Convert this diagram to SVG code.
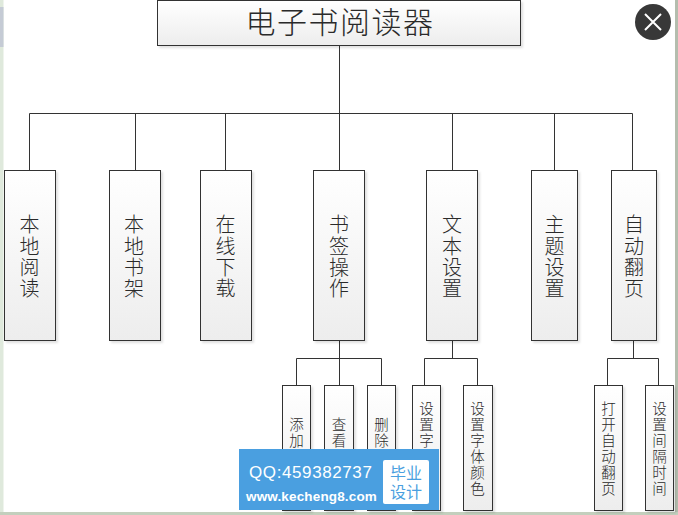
<svg xmlns="http://www.w3.org/2000/svg" width="678" height="515" viewBox="0 0 678 515">
<style>
text{font-family:"Noto Sans CJK SC","Noto Sans",sans-serif;fill:#2a2a2a;text-anchor:middle;font-weight:300}
.box{fill:url(#g);stroke:#333;stroke-width:1;filter:url(#s)}
.big{font-size:20px}
.small{font-size:14.500px}
.conn{fill:none;stroke:#333;stroke-width:1}
.wm{font-family:"Liberation Sans",sans-serif;fill:#fff;text-anchor:start;font-weight:400}
</style>
<defs>
<linearGradient id="g" x1="0" y1="0" x2="0" y2="1"><stop offset="0" stop-color="#fff"/><stop offset="1" stop-color="#ededed"/></linearGradient>
<filter id="s" x="-10%" y="-10%" width="125%" height="125%"><feDropShadow dx="2" dy="2" stdDeviation="0.8" flood-color="#000" flood-opacity="0.12"/></filter>
</defs>
<rect width="678" height="515" fill="#fff"/>
<rect x="0" y="0" width="3.500" height="515" fill="#dfe9dc"/>
<rect x="0" y="7" width="3.500" height="40" fill="#c5cbd5"/>
<rect x="675" y="0" width="3" height="515" fill="#b4bdae"/>
<rect x="0" y="512" width="678" height="3" fill="#c3cfbd"/>
<g id="connectors" class="conn">
<path d="M339.500 45V113.500M29.500 170V113.500H632.500V170M135.500 113.500V170M225.500 113.500V170M339.500 113.500V170M452.500 113.500V170M554.500 113.500V170"/>
<path d="M339.500 341V358.500M296.500 385V358.500H381.500V385M339.500 358.500V385"/>
<path d="M452.500 341V358.500M424.500 385V358.500H477.500V385"/>
<path d="M633.500 341V358.500M607.500 385V358.500H658.500V385"/>
</g>
<g id="root"><rect class="box" x="157.500" y="0.500" width="363" height="45"/><text x="340" y="33" font-size="30" letter-spacing="1.500">电子书阅读器</text></g>
<g id="n1"><rect class="box" x="4.500" y="170.500" width="51" height="170"/><text class="big"><tspan x="29.500" y="232">本</tspan><tspan x="29.500" y="254">地</tspan><tspan x="29.500" y="275">阅</tspan><tspan x="29.500" y="296">读</tspan></text></g>
<g id="n2"><rect class="box" x="109.500" y="170.500" width="51" height="170"/><text class="big"><tspan x="134" y="232">本</tspan><tspan x="134" y="254">地</tspan><tspan x="134" y="275">书</tspan><tspan x="134" y="296">架</tspan></text></g>
<g id="n3"><rect class="box" x="200.500" y="170.500" width="51" height="170"/><text class="big"><tspan x="225.500" y="232">在</tspan><tspan x="225.500" y="254">线</tspan><tspan x="225.500" y="275">下</tspan><tspan x="225.500" y="296">载</tspan></text></g>
<g id="n4"><rect class="box" x="313.500" y="170.500" width="51" height="170"/><text class="big"><tspan x="339" y="232">书</tspan><tspan x="339" y="254">签</tspan><tspan x="339" y="275">操</tspan><tspan x="339" y="296">作</tspan></text></g>
<g id="n5"><rect class="box" x="426.500" y="170.500" width="51" height="170"/><text class="big"><tspan x="452" y="232">文</tspan><tspan x="452" y="254">本</tspan><tspan x="452" y="275">设</tspan><tspan x="452" y="296">置</tspan></text></g>
<g id="n6"><rect class="box" x="531.500" y="170.500" width="46" height="170"/><text class="big"><tspan x="554.500" y="232">主</tspan><tspan x="554.500" y="254">题</tspan><tspan x="554.500" y="275">设</tspan><tspan x="554.500" y="296">置</tspan></text></g>
<g id="n7"><rect class="box" x="611.500" y="170.500" width="45" height="170"/><text class="big"><tspan x="634" y="232">自</tspan><tspan x="634" y="254">动</tspan><tspan x="634" y="275">翻</tspan><tspan x="634" y="296">页</tspan></text></g>
<g id="c1"><rect class="box" x="282.500" y="385.500" width="28" height="125"/><text class="small"><tspan x="296.500" y="430">添</tspan><tspan x="296.500" y="446">加</tspan></text></g>
<g id="c2"><rect class="box" x="324.500" y="385.500" width="29" height="125"/><text class="small"><tspan x="339" y="430">查</tspan><tspan x="339" y="446">看</tspan></text></g>
<g id="c3"><rect class="box" x="367.500" y="385.500" width="28" height="125"/><text class="small"><tspan x="381.500" y="430">删</tspan><tspan x="381.500" y="446">除</tspan></text></g>
<g id="c4"><rect class="box" x="412.500" y="385.500" width="28" height="125"/><text class="small"><tspan x="426.500" y="414">设</tspan><tspan x="426.500" y="430">置</tspan><tspan x="426.500" y="446">字</tspan></text></g>
<g id="c5"><rect class="box" x="463.500" y="385.500" width="29" height="125"/><text class="small"><tspan x="477.500" y="414">设</tspan><tspan x="477.500" y="430">置</tspan><tspan x="477.500" y="446">字</tspan><tspan x="477.500" y="462">体</tspan><tspan x="477.500" y="478">颜</tspan><tspan x="477.500" y="494">色</tspan></text></g>
<g id="c6"><rect class="box" x="594.500" y="385.500" width="28" height="125"/><text class="small"><tspan x="608.500" y="414">打</tspan><tspan x="608.500" y="430">开</tspan><tspan x="608.500" y="446">自</tspan><tspan x="608.500" y="462">动</tspan><tspan x="608.500" y="478">翻</tspan><tspan x="608.500" y="494">页</tspan></text></g>
<g id="c7"><rect class="box" x="645.500" y="385.500" width="28" height="125"/><text class="small"><tspan x="659.500" y="414">设</tspan><tspan x="659.500" y="430">置</tspan><tspan x="659.500" y="446">间</tspan><tspan x="659.500" y="462">隔</tspan><tspan x="659.500" y="478">时</tspan><tspan x="659.500" y="494">间</tspan></text></g>
<g id="close"><circle cx="653" cy="22" r="18" fill="#383838"/><path d="M645 14L661 30M661 14L645 30" stroke="#fff" stroke-width="2" fill="none"/></g>
<g id="watermark">
<rect x="239" y="449" width="200" height="61" fill="#4a9fe0"/>
<text class="wm" x="249" y="478" font-size="17" letter-spacing="0.600">QQ:459382737</text>
<text class="wm" x="246" y="501" font-size="13.500" letter-spacing="0.150" style="font-weight:700">www.kecheng8.com</text>
<rect x="383" y="460" width="46" height="44" rx="2" fill="#fff"/>
<text x="406" y="479" font-size="16" style="fill:#4a9fe0;font-weight:400">毕业</text>
<text x="406" y="498" font-size="16" style="fill:#4a9fe0;font-weight:400">设计</text>
</g>
</svg>
